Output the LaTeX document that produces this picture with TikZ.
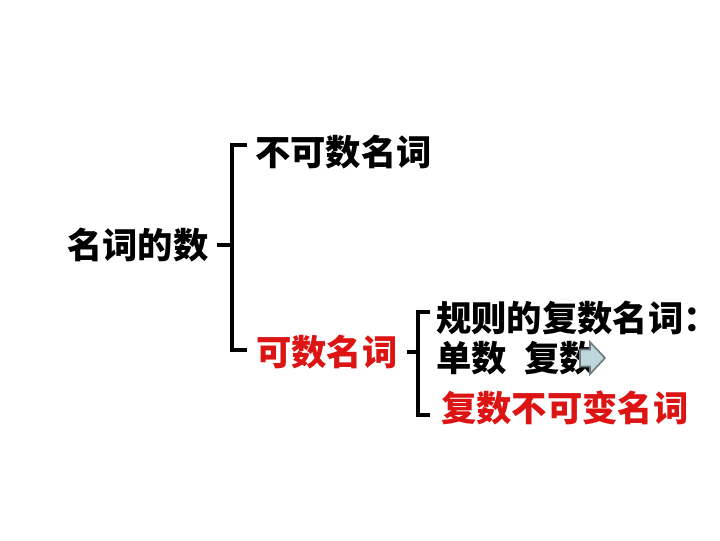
\documentclass[tikz,border=0pt]{standalone}
\usepackage{fontspec}
\newfontfamily\cjk{Noto Sans CJK SC}
\definecolor{myred}{RGB}{220,20,20}
\definecolor{arrfill}{RGB}{190,215,220}
\definecolor{arrline}{RGB}{110,120,125}
\tikzset{
  txt/.style={anchor=west, inner sep=0pt, font=\cjk\bfseries\fontsize{26.5}{29}\selectfont},
  br/.style={line width=3pt, black, line cap=butt, line join=miter},
  brs/.style={line width=3pt, black!35, line join=miter},
  arrowshape/.style={draw=arrline, fill=arrfill, line width=1.2pt, line join=miter},
}
\begin{document}
\begin{tikzpicture}[x=0.75pt,y=-0.75pt]
\useasboundingbox (0,0) rectangle (720,540);
% texts
\node[txt] (root) at (67,245) {名词的数};
\node[txt] (unc) at (255,152) {不可数名词};
\node[txt, text=myred] (cnt) at (256,352) {可数名词};
\node[txt] (reg) at (436,318) {规则的复数名词：};
\node[txt] (sing) at (436,358) {单数\hspace{0.5em}复数};
\node[txt, text=myred] (inv) at (441,408) {复数不可变名词};
% bracket coordinates
\coordinate (a1) at (232,145);
\coordinate (a2) at (232,350);
\coordinate (am) at (232,245);
\coordinate (at) at (247,145);
\coordinate (ab) at (247,350);
\coordinate (al) at (217,245);
\coordinate (b1) at (418,312);
\coordinate (b2) at (418,415);
\coordinate (bm) at (418,352);
\coordinate (bt) at (430,312);
\coordinate (bb) at (430,415);
\coordinate (bl) at (407,352);
% shadows
\begin{scope}[shift={(2,2)}]
\draw[brs] (at) -- (a1) -- (a2) -- (ab);
\draw[brs] (al) -- (am);
\draw[brs] (bt) -- (b1) -- (b2) -- (bb);
\draw[brs] (bl) -- (bm);
\end{scope}
% brackets
\draw[br] (at) -- (a1) -- (a2) -- (ab);
\draw[br] (al) -- (am);
\draw[br] (bt) -- (b1) -- (b2) -- (bb);
\draw[br] (bl) -- (bm);
% arrow
\coordinate (arr) at (580,358);
\draw[arrowshape] (arr) ++(0,-8.5) -- ++(10,0) -- ++(0,-7.5) -- ++(15,16)
  -- ++(-15,16) -- ++(0,-7.5) -- ++(-10,0) -- cycle;
\end{tikzpicture}
\end{document}
